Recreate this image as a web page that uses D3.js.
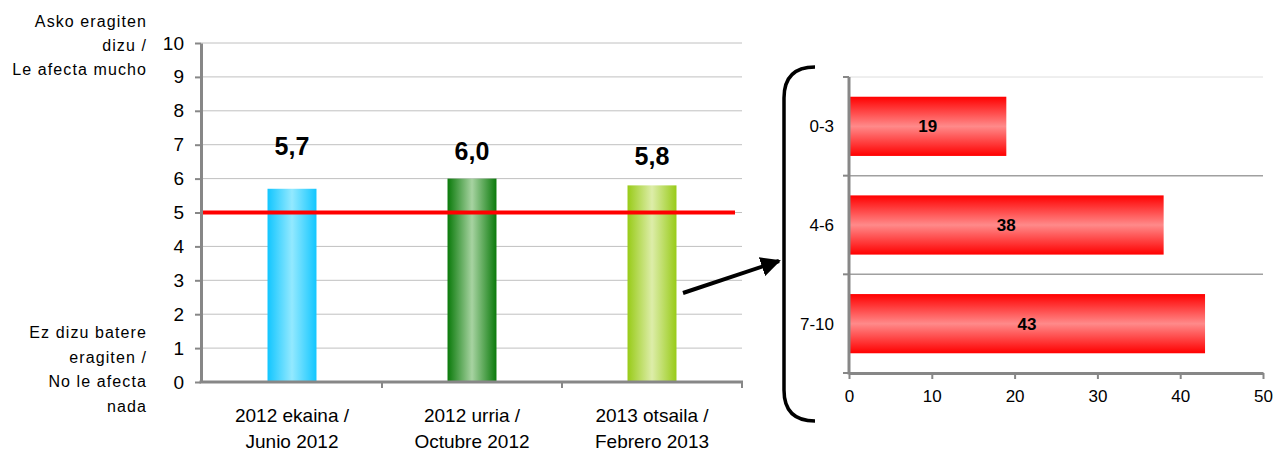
<!DOCTYPE html>
<html><head><meta charset="utf-8">
<script src="https://cdn.jsdelivr.net/npm/d3@7"></script>
<style>
html,body{margin:0;padding:0;background:#fff;}
text{font-family:"Liberation Sans",Arial,sans-serif;fill:#000;}
</style></head>
<body>
<svg id="chart" width="1274" height="452"></svg>
<script>
// ---- data ----
const periods = [["2012 ekaina /","Junio 2012"],["2012 urria /","Octubre 2012"],["2013 otsaila /","Febrero 2013"]];
const periodKeys = ["p1","p2","p3"];
const scores = [5.7, 6.0, 5.8];
const scoreLabels = ["5,7","6,0","5,8"];
const referenceValue = 5;
const yTicks = [0,1,2,3,4,5,6,7,8,9,10];
const topNote = ["Asko eragiten","dizu /","Le afecta mucho"];
const bottomNote = ["Ez dizu batere","eragiten /","No le afecta","nada"];
const groups = ["0-3","4-6","7-10"];
const groupPct = [19, 38, 43];
const xTicksR = [0,10,20,30,40,50];

const barColors = [["#12c6ff","#93e9ff"],["#0a7a0a","#a7d3a1"],["#98cb18","#ddeda9"]];
const axisGray = "#878787";

const svg = d3.select("#chart");
const defs = svg.append("defs");
barColors.forEach((c,i)=>{
  const g = defs.append("linearGradient").attr("id","bg"+i).attr("x1","0").attr("x2","1").attr("y1","0").attr("y2","0");
  g.append("stop").attr("offset","0").attr("stop-color",c[0]);
  g.append("stop").attr("offset","0.5").attr("stop-color",c[1]);
  g.append("stop").attr("offset","1").attr("stop-color",c[0]);
});
const rg = defs.append("linearGradient").attr("id","redg").attr("x1","0").attr("x2","0").attr("y1","0").attr("y2","1");
rg.append("stop").attr("offset","0").attr("stop-color","#ff0000");
rg.append("stop").attr("offset","0.5").attr("stop-color","#ff8a8a");
rg.append("stop").attr("offset","1").attr("stop-color","#ff0000");
defs.append("marker").attr("id","arr").attr("viewBox","0 0 10 10").attr("refX",9).attr("refY",5)
  .attr("markerWidth",5).attr("markerHeight",5).attr("orient","auto").attr("markerUnits","strokeWidth")
  .append("path").attr("d","M0,0 L10,5 L0,10 z").attr("fill","#000");

// ---- left chart ----
const x = d3.scaleBand().domain(periodKeys).range([202,742]).paddingInner(0.728).paddingOuter(0.364);
const y = d3.scaleLinear().domain([0,10]).range([382,43]);

// gridlines
svg.append("g").selectAll("line").data(yTicks.filter(d=>d>0)).join("line")
  .attr("x1",201).attr("x2",742).attr("y1",d=>y(d)).attr("y2",d=>y(d))
  .attr("stroke","#c0c0c0").attr("stroke-width",1);

// bars
svg.append("g").selectAll("rect").data(scores).join("rect")
  .attr("x",(d,i)=>x(periodKeys[i])).attr("width",x.bandwidth())
  .attr("y",d=>y(d)).attr("height",d=>y(0)-y(d))
  .attr("fill",(d,i)=>`url(#bg${i})`);

// reference line
svg.append("line").attr("x1",201).attr("x2",735).attr("y1",y(referenceValue)).attr("y2",y(referenceValue))
  .attr("stroke","#ff0000").attr("stroke-width",4);

// value labels
svg.append("g").selectAll("text").data(scoreLabels).join("text")
  .attr("x",(d,i)=>x(periodKeys[i])+x.bandwidth()/2)
  .attr("y",(d,i)=>155+i*5)
  .attr("text-anchor","middle").attr("font-size",25).attr("font-weight","bold").text(d=>d);

// y axis
const ya = svg.append("g").attr("transform","translate(201,0)")
  .call(d3.axisLeft(y).tickValues(yTicks).tickSize(6).tickPadding(11).tickSizeOuter(0));
ya.select(".domain").attr("stroke",axisGray).attr("stroke-width",3);
ya.selectAll(".tick line").attr("stroke",axisGray).attr("stroke-width",2);
ya.selectAll(".tick text").attr("font-size",19).attr("font-family","Liberation Sans, Arial").attr("fill","#000");

// x axis
svg.append("line").attr("x1",199.5).attr("x2",743).attr("y1",y(0)).attr("y2",y(0)).attr("stroke",axisGray).attr("stroke-width",3);
const bounds = periodKeys.map(k=>x(k)+x.bandwidth()/2+x.step()/2);
svg.append("g").selectAll("line").data(bounds).join("line")
  .attr("x1",d=>d).attr("x2",d=>d).attr("y1",y(0)).attr("y2",y(0)+6)
  .attr("stroke",axisGray).attr("stroke-width",2);
const xl = svg.append("g").selectAll("text").data(periods).join("text")
  .attr("x",(d,i)=>x(periodKeys[i])+x.bandwidth()/2).attr("y",422)
  .attr("text-anchor","middle").attr("font-size",19);
xl.append("tspan").text(d=>d[0]);
xl.append("tspan").attr("x",(d,i)=>x(periodKeys[i])+x.bandwidth()/2).attr("dy",26).text(d=>d[1]);

// side notes
svg.append("g").selectAll("text").data(topNote).join("text")
  .attr("x",147).attr("y",(d,i)=>27+i*24).attr("text-anchor","end")
  .attr("font-size",16).attr("letter-spacing","1.1px").text(d=>d);
svg.append("g").selectAll("text").data(bottomNote).join("text")
  .attr("x",147).attr("y",(d,i)=>338+i*24.5).attr("text-anchor","end")
  .attr("font-size",16).attr("letter-spacing","1.1px").text(d=>d);

// ---- right chart ----
const xr = d3.scaleLinear().domain([0,50]).range([849,1263]);
const yr = d3.scaleBand().domain(groups).range([77,373]).paddingInner(0.4).paddingOuter(0.2);

svg.append("line").attr("x1",849).attr("x2",1263).attr("y1",77).attr("y2",77).attr("stroke","#dedede").attr("stroke-width",1);
const rb = groups.slice(1).map(g=>yr(g)-yr.step()*yr.paddingInner()/2);
svg.append("g").selectAll("line").data(rb).join("line")
  .attr("x1",849).attr("x2",1263).attr("y1",d=>d).attr("y2",d=>d).attr("stroke","#a0a0a0").attr("stroke-width",1.5);

svg.append("g").selectAll("rect").data(groupPct).join("rect")
  .attr("x",xr(0)).attr("y",(d,i)=>yr(groups[i])).attr("height",yr.bandwidth())
  .attr("width",d=>xr(d)-xr(0)).attr("fill","url(#redg)");
svg.append("g").selectAll("text").data(groupPct).join("text")
  .attr("x",d=>xr(d/2)).attr("y",(d,i)=>yr(groups[i])+yr.bandwidth()/2+6)
  .attr("text-anchor","middle").attr("font-size",17).attr("font-weight","bold").text(d=>d);

// right y axis
svg.append("line").attr("x1",849).attr("x2",849).attr("y1",77).attr("y2",374.5).attr("stroke",axisGray).attr("stroke-width",3);
const ryt = [77, ...rb, 373];
svg.append("g").selectAll("line").data(ryt).join("line")
  .attr("x1",843).attr("x2",849).attr("y1",d=>d).attr("y2",d=>d).attr("stroke",axisGray).attr("stroke-width",2);
svg.append("g").selectAll("text").data(groups).join("text")
  .attr("x",834).attr("y",d=>yr(d)+yr.bandwidth()/2+6).attr("text-anchor","end").attr("font-size",17).text(d=>d);

// right x axis
const xa = svg.append("g").attr("transform","translate(0,373)")
  .call(d3.axisBottom(xr).tickValues(xTicksR).tickSize(6).tickPadding(11).tickSizeOuter(0));
xa.select(".domain").attr("stroke",axisGray).attr("stroke-width",3);
xa.selectAll(".tick line").attr("stroke",axisGray).attr("stroke-width",2);
xa.selectAll(".tick text").attr("font-size",17).attr("font-family","Liberation Sans, Arial").attr("fill","#000");

// brace and arrow
svg.append("path").attr("d","M815,67 Q784,67 784,98 L784,390 Q784,421 815,421")
  .attr("fill","none").attr("stroke","#000").attr("stroke-width",3.5);
svg.append("line").attr("x1",683).attr("y1",293).attr("x2",779).attr("y2",261)
  .attr("stroke","#000").attr("stroke-width",4).attr("marker-end","url(#arr)");
</script>
</body></html>
